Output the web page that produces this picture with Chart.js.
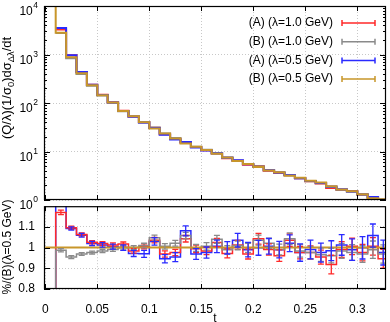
<!DOCTYPE html>
<html>
<head>
<meta charset="utf-8">
<script src="https://cdn.jsdelivr.net/npm/chart.js@4.4.1/dist/chart.umd.min.js"></script>
<style>
  html, body { margin: 0; padding: 0; background: #fff; }
  #wrap { position: relative; width: 390px; height: 322px; overflow: hidden; }
  #top { position: absolute; left: 0; top: 0; }
  #ratio { position: absolute; left: 0; top: 190px; }
</style>
</head>
<body>
<div id="wrap">
  <canvas id="top" width="390" height="214"></canvas>
  <canvas id="ratio" width="390" height="132"></canvas>
</div>
<script>
// ---- data (bins of width 0.01 in t, lower edges) ----
const binLo = [0.00, 0.01, 0.02, 0.03, 0.04, 0.05, 0.06, 0.07, 0.08, 0.09, 0.10,
               0.11, 0.12, 0.13, 0.14, 0.15, 0.16, 0.17, 0.18, 0.19, 0.20, 0.21,
               0.22, 0.23, 0.24, 0.25, 0.26, 0.27, 0.28, 0.29, 0.30, 0.31, 0.32];
const binHi = 0.33;

// (B) λ=0.5 GeV, reference distribution (top panel)
const refB05 = [20000, 2800, 880, 411, 233, 145, 102, 68, 53.5, 40.2, 29.8,
                23.5, 18.5, 14.6, 12.5, 10.8, 9.0, 7.5, 6.4, 5.5, 4.8, 4.06,
                3.74, 3.16, 2.87, 2.49, 2.30, 1.93, 1.65, 1.52, 1.32, 1.09, 1.04];

// ratios to (B) λ=0.5 GeV (bottom panel)
const ratioA10 = [0, 1.170, 1.096, 1.063, 1.026, 1.020, 1.013, 1.017, 0.984, 1.006, 1.036,
                  0.969, 0.976, 1.043, 0.994, 0.984, 1.025, 0.972, 1.013, 0.969, 1.043, 0.991,
                  0.961, 1.036, 0.976, 0.976, 0.954, 0.918, 0.991, 1.006, 0.976, 1.006, 0.946];
const ratioB10 = [0, 0.987, 0.954, 0.969, 0.976, 0.984, 0.991, 0.999, 1.000, 1.010, 1.048,
                  1.006, 1.021, 1.058, 0.999, 1.006, 1.040, 0.990, 1.010, 0.999, 1.036, 1.021,
                  0.991, 1.043, 0.984, 0.976, 0.965, 0.961, 0.984, 0.976, 0.969, 0.990, 0.969];
const ratioA05 = [0, 1.250, 1.092, 1.060, 1.020, 1.013, 1.005, 1.000, 0.972, 0.970, 1.030,
                  0.946, 0.954, 1.081, 0.969, 0.976, 1.006, 0.999, 1.036, 0.990, 0.999, 1.006,
                  0.990, 1.021, 0.976, 0.991, 0.976, 0.985, 1.013, 0.990, 0.999, 1.058, 0.976];
const ratioB05 = [1, 1, 1, 1, 1, 1, 1, 1, 1, 1, 1, 1, 1, 1, 1, 1, 1,
                  1, 1, 1, 1, 1, 1, 1, 1, 1, 1, 1, 1, 1, 1, 1, 1];

// error bars on the ratios
const errA10 = [0, 0.011, 0.008, 0.008, 0.008, 0.009, 0.010, 0.010, 0.011, 0.012, 0.013,
                0.015, 0.015, 0.016, 0.018, 0.018, 0.020, 0.022, 0.022, 0.024, 0.026, 0.027,
                0.028, 0.030, 0.030, 0.032, 0.034, 0.045, 0.038, 0.040, 0.040, 0.042, 0.045];
const errB10 = [0, 0.008, 0.007, 0.007, 0.007, 0.008, 0.009, 0.010, 0.010, 0.011, 0.012,
                0.013, 0.014, 0.016, 0.017, 0.018, 0.019, 0.020, 0.021, 0.022, 0.024, 0.025,
                0.026, 0.028, 0.030, 0.030, 0.032, 0.035, 0.036, 0.038, 0.040, 0.042, 0.044];
const errA05 = [0, 0.012, 0.008, 0.009, 0.010, 0.011, 0.012, 0.013, 0.015, 0.017, 0.018,
                0.020, 0.022, 0.024, 0.026, 0.027, 0.030, 0.030, 0.033, 0.035, 0.036, 0.038,
                0.040, 0.040, 0.042, 0.045, 0.046, 0.048, 0.050, 0.052, 0.054, 0.056, 0.060];

const seriesNames = ['(A) (λ=1.0 GeV)', '(B) (λ=1.0 GeV)', '(A) (λ=0.5 GeV)', '(B) (λ=0.5 GeV)'];
const xTicks = [0, 0.05, 0.1, 0.15, 0.2, 0.25, 0.3];
const logTicks = [1, 10, 100, 1000, 10000];
const ratioTicks = [0.8, 0.9, 1, 1.1];

// ---- style ----
const RED = '#ff2a2a', GRAY = '#8a8a8a', BLUE = '#2a2aff', GOLD = '#c8962a';
const COLORS = [RED, GRAY, BLUE, GOLD];
const X_MIN = -0.00125, X_MAX = 0.3276;
const FONT = '"Liberation Sans", Arial, sans-serif';
const GRID = '#c8c8c8';

Chart.defaults.font.family = FONT;
Chart.defaults.font.size = 12;
Chart.defaults.color = '#000';

// step outline: one point per lower bin edge, plus the closing edge
function stepPoints(vals, lead) {
  const pts = lead ? [{ x: binLo[0], y: 0 }] : [];
  vals.forEach((v, i) => pts.push({ x: binLo[i], y: v }));
  pts.push({ x: binHi, y: vals[vals.length - 1] });
  return pts;
}

function xScale(labels) {
  return {
    type: 'linear', min: X_MIN, max: X_MAX,
    afterBuildTicks: s => { s.ticks = xTicks.map(v => ({ value: v })); },
    afterFit: s => { s.height = labels ? 33 : 0; },
    grid: { color: GRID, drawTicks: false },
    border: { display: false, dash: [1, 2] },
    ticks: { display: labels, padding: 13, maxRotation: 0,
             callback: v => String(+v.toFixed(2)) },
    title: { display: labels, text: 't', padding: { top: 0, bottom: -4 }, font: { size: 12 } }
  };
}

// frame + inward tick marks (gnuplot style)
const framePlugin = {
  id: 'frame',
  afterDraw(chart, args, opts) {
    const { ctx, chartArea: a, scales: { x, y } } = chart;
    ctx.save();
    ctx.strokeStyle = '#000';
    ctx.lineWidth = 1;
    ctx.beginPath();
    xTicks.forEach(v => {
      const px = Math.round(x.getPixelForValue(v)) + 0.5;
      ctx.moveTo(px, a.top); ctx.lineTo(px, a.top + 5);
      ctx.moveTo(px, a.bottom); ctx.lineTo(px, a.bottom - 5);
    });
    const yTick = (v, len) => {
      const py = Math.round(y.getPixelForValue(v)) + 0.5;
      ctx.moveTo(a.left, py); ctx.lineTo(a.left + len, py);
      ctx.moveTo(a.right, py); ctx.lineTo(a.right - len, py);
    };
    opts.major.forEach(v => yTick(v, 6));
    (opts.minor || []).forEach(v => yTick(v, 3));
    ctx.stroke();
    ctx.lineWidth = 1.2;
    ctx.strokeRect(a.left + 0.5, a.top + 0.5, a.width - 1, a.height - 1);
    ctx.restore();
  }
};

// rotated axis title with optional subscripts: parts = [[text, isSub], ...]
function drawVTitle(ctx, parts, cx, cy, size) {
  const sub = size * 0.72;
  ctx.save();
  ctx.translate(cx, cy);
  ctx.rotate(-Math.PI / 2);
  ctx.fillStyle = '#000';
  ctx.textBaseline = 'middle';
  ctx.textAlign = 'left';
  let total = 0;
  parts.forEach(([t, s]) => { ctx.font = `${s ? sub : size}px ${FONT}`; total += ctx.measureText(t).width; });
  let xx = -total / 2;
  parts.forEach(([t, s]) => {
    ctx.font = `${s ? sub : size}px ${FONT}`;
    ctx.fillText(t, xx, s ? size * 0.3 : 0);
    xx += ctx.measureText(t).width;
  });
  ctx.restore();
}

// top panel: power-of-ten labels, y title, key
const topTextPlugin = {
  id: 'topText',
  afterDraw(chart) {
    const { ctx, scales: { y } } = chart;
    ctx.save();
    ctx.fillStyle = '#000';
    ctx.textAlign = 'right';
    ctx.textBaseline = 'alphabetic';
    logTicks.forEach(v => {
      const py = y.getPixelForValue(v);
      const e = String(Math.round(Math.log10(v)));
      ctx.font = `8.5px ${FONT}`;
      ctx.fillText(e, 38, py + 2);
      const w = ctx.measureText(e).width;
      ctx.font = `12px ${FONT}`;
      ctx.fillText('10', 38 - w - 0.5, py + 9);
    });
    ctx.restore();

    drawVTitle(ctx, [['(Q/λ)(1/σ', 0], ['0', 1], [')dσ', 0], ['Δλ', 1], ['/dt', 0]], 7.5, 88, 13);

    // key
    ctx.save();
    ctx.font = `12px ${FONT}`;
    ctx.textAlign = 'right';
    ctx.textBaseline = 'middle';
    seriesNames.forEach((name, i) => {
      const ry = 23 + i * 18.7;
      ctx.fillStyle = '#000';
      ctx.fillText(name, 333, ry);
      ctx.strokeStyle = COLORS[i];
      ctx.lineWidth = 1.5;
      ctx.beginPath();
      ctx.moveTo(342, ry); ctx.lineTo(375, ry);
      ctx.moveTo(342, ry - 3); ctx.lineTo(342, ry + 3);
      ctx.moveTo(375, ry - 3); ctx.lineTo(375, ry + 3);
      ctx.stroke();
    });
    ctx.restore();
  }
};

// ratio panel: error bars at bin centres + y title
const errorPlugin = {
  id: 'errorBars',
  afterDatasetsDraw(chart) {
    const { ctx, chartArea: a, scales: { x, y } } = chart;
    ctx.save();
    ctx.beginPath();
    ctx.rect(a.left, a.top, a.width, a.height);
    ctx.clip();
    chart.data.datasets.forEach(ds => {
      if (!ds.errors) return;
      ctx.strokeStyle = ds.borderColor;
      ctx.lineWidth = 1.3;
      ctx.beginPath();
      ds.values.forEach((v, i) => {
        const e = ds.errors[i];
        if (!e) return;
        const px = x.getPixelForValue(binLo[i] + 0.005);
        const y0 = y.getPixelForValue(v - e), y1 = y.getPixelForValue(v + e);
        ctx.moveTo(px, y0); ctx.lineTo(px, y1);
        ctx.moveTo(px - 3, y0); ctx.lineTo(px + 3, y0);
        ctx.moveTo(px - 3, y1); ctx.lineTo(px + 3, y1);
      });
      ctx.stroke();
    });
    ctx.restore();
  },
  afterDraw(chart) {
    drawVTitle(chart.ctx, [['%/(B)(λ=0.5 GeV)', 0]], 7.5, 57, 12);
  }
};

// ---- top panel ----
const topVals = [ratioA10, ratioB10, ratioA05, ratioB05].map(r => refB05.map((v, i) => v * r[i]));
const topOrder = [3, 2, 1, 0];   // lower = drawn on top
new Chart(document.getElementById('top'), {
  type: 'line',
  data: {
    datasets: topVals.map((vals, i) => ({
      label: seriesNames[i],
      data: stepPoints(vals, true),
      borderColor: COLORS[i],
      borderWidth: 2,
      stepped: 'before',
      pointRadius: 0,
      fill: false,
      order: topOrder[i]
    }))
  },
  options: {
    responsive: false,
    animation: false,
    layout: { padding: { top: 6, right: 4, bottom: 14, left: 0 } },
    plugins: {
      legend: { display: false },
      tooltip: { enabled: false },
      frame: {
        major: logTicks,
        minor: [1, 10, 100, 1000].flatMap(d => [2, 3, 4, 5, 6, 7, 8, 9].map(m => m * d))
      }
    },
    scales: {
      x: xScale(false),
      y: {
        type: 'logarithmic', min: 1, max: 10000,
        afterBuildTicks: s => { s.ticks = logTicks.map(v => ({ value: v })); },
        afterFit: s => { s.width = 44; },
        grid: { color: GRID, drawTicks: false },
        border: { display: false, dash: [1, 2] },
        ticks: { display: false }
      }
    }
  },
  plugins: [framePlugin, topTextPlugin]
});

// ---- ratio panel ----
const ratioSets = [ratioA10, ratioB10, ratioA05, ratioB05];
const ratioErrs = [errA10, errB10, errA05, null];
const ratioOrder = [2, 1, 3, 0];
new Chart(document.getElementById('ratio'), {
  type: 'line',
  data: {
    datasets: ratioSets.map((vals, i) => ({
      label: seriesNames[i],
      data: stepPoints(vals, false),
      values: vals,
      errors: ratioErrs[i],
      borderColor: COLORS[i],
      borderWidth: i === 3 ? 2 : 1.5,
      stepped: 'before',
      pointRadius: 0,
      fill: false,
      order: ratioOrder[i]
    }))
  },
  options: {
    responsive: false,
    animation: false,
    layout: { padding: { top: 10, right: 4, bottom: 0, left: 0 } },
    plugins: {
      legend: { display: false },
      tooltip: { enabled: false },
      frame: { major: ratioTicks }
    },
    scales: {
      x: xScale(true),
      y: {
        type: 'linear', min: 0.8, max: 1.2,
        afterBuildTicks: s => { s.ticks = ratioTicks.map(v => ({ value: v })); },
        afterFit: s => { s.width = 44; },
        grid: { color: GRID, drawTicks: false },
        border: { display: false, dash: [1, 2] },
        ticks: { padding: 9, callback: v => String(Math.round(v * 10) / 10) }
      }
    }
  },
  plugins: [framePlugin, errorPlugin]
});
</script>
</body>
</html>
